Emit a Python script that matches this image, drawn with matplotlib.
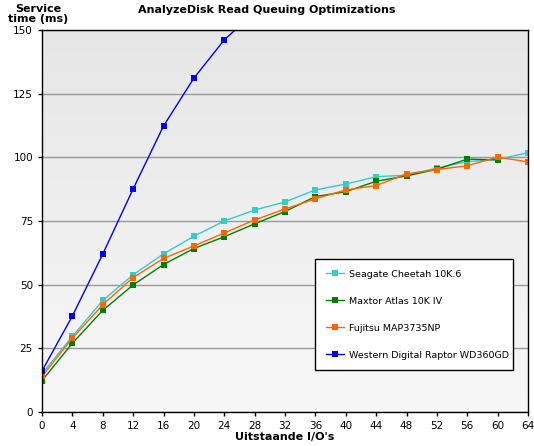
import numpy as np
import matplotlib
matplotlib.use("Agg")
import matplotlib.pyplot as plt

plt.rcParams['font.family'] = ['DejaVu Sans']

# I/O queue depths
io_depth = [0, 4, 8, 12, 16, 20, 24, 28, 32, 36, 40, 44, 48, 52, 56, 60, 64]

# service times (ms)
seagate = [15.0, 29.7, 43.8, 53.9, 62.1, 69.0, 75.0, 79.3, 82.5, 87.2, 89.5, 92.4, 93.0, 95.8, 98.3, 99.2, 101.8]
maxtor = [12.3, 27.0, 39.9, 49.9, 57.9, 64.2, 68.8, 73.9, 78.7, 84.6, 86.5, 90.6, 92.7, 95.3, 99.3, 99.0, np.nan]
fujitsu = [14.0, 29.0, 42.1, 52.8, 60.3, 65.2, 70.3, 75.4, 79.7, 83.7, 87.2, 88.9, 93.5, 95.2, 96.7, 100.1, 98.2]
raptor = [16.1, 37.7, 62.0, 87.6, 112.3, 131.1, 146.1, 157.0] + [np.nan] * 9

series = [
    ("Seagate Cheetah 10K.6", seagate, "#33cccc"),
    ("Maxtor Atlas 10K IV", maxtor, "#008000"),
    ("Fujitsu MAP3735NP", fujitsu, "#ff6600"),
    ("Western Digital Raptor WD360GD", raptor, "#0000ff"),
]

fig = plt.figure(figsize=(5.34, 4.46), dpi=100)
ax = fig.add_axes([42 / 534, 1 - 412 / 446, 486 / 534, 382 / 446])

# grey gradient background of the plot area (darker at the top)
grad = np.linspace(0, 1, 256).reshape(-1, 1)
bg = matplotlib.colors.LinearSegmentedColormap.from_list("bg", ["#e6e6e6", "#f8f8f8"])
ax.imshow(grad, cmap=bg, origin="upper", extent=[0, 64, 0, 150], aspect="auto", zorder=0)

for label, vals, color in series:
    ax.plot(io_depth, vals, color=color, lw=1, marker="s", markersize=5,
            markeredgewidth=0, label=label, zorder=3, clip_on=True)

ax.set_xlim(0, 64)
ax.set_ylim(0, 150)
ax.set_xticks(io_depth)
ax.set_yticks([0, 25, 50, 75, 100, 125, 150])
ax.yaxis.grid(True, color="#999999", lw=1)
for gl in ax.get_ygridlines():
    gl.set_zorder(1)
ax.tick_params(labelsize=7.5, length=3, width=1, direction="out")
for sp in ax.spines.values():
    sp.set_color("black")
    sp.set_linewidth(1)
    sp.set_zorder(4)

ax.set_xlabel("Uitstaande I/O's", fontsize=8, fontweight="bold", labelpad=1)
fig.text(0.5, 1 - 10 / 446, "AnalyzeDisk Read Queuing Optimizations", ha="center", va="center",
         fontsize=8, fontweight="bold")
fig.text(38 / 534, 1 - 14 / 446, "Service\ntime (ms)", ha="center", va="center",
         fontsize=8, fontweight="bold", linespacing=1.1)

leg = ax.legend(loc="lower left", bbox_to_anchor=(0.562, 0.11, 0.407, 0.29), mode="expand",
                fontsize=6.8, frameon=True, fancybox=False, framealpha=1, edgecolor="black",
                labelspacing=1.9, handlelength=2.0, handletextpad=0.5, borderpad=1.1,
                borderaxespad=0)
leg.get_frame().set_linewidth(1)

fig.savefig("out.png", dpi=100)
